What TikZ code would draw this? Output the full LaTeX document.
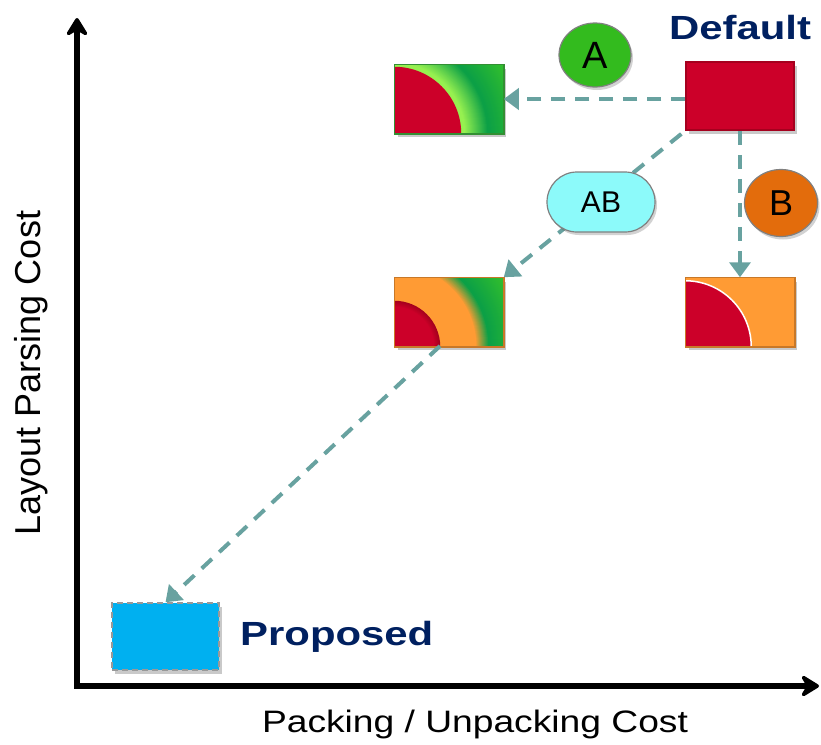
\documentclass[tikz,border=0pt]{standalone}
\usepackage{fontspec}
\setmainfont{Liberation Sans}
\usetikzlibrary{arrows.meta,shapes.geometric,shadows}
\definecolor{cred}{RGB}{204,0,41}
\definecolor{credd}{RGB}{165,0,30}
\definecolor{gout}{RGB}{52,192,44}
\definecolor{gdark}{RGB}{12,160,70}
\definecolor{glight}{RGB}{150,240,80}
\definecolor{corange}{RGB}{255,155,52}
\definecolor{corbord}{RGB}{200,120,40}
\definecolor{cblue}{RGB}{0,176,240}
\definecolor{navy}{RGB}{0,32,96}
\definecolor{teal1}{RGB}{104,162,160}
\definecolor{circA}{RGB}{51,187,30}
\definecolor{circB}{RGB}{227,108,12}
\definecolor{cyanAB}{RGB}{140,250,250}
\newcommand\ringgrad[5]{%
  \foreach \rr in {#2,...,#3}{%
    \pgfmathsetmacro\tpct{(\rr-#3)/(#2-#3)*100}%
    \fill[#4!\tpct!#5] (#1) circle[radius=\rr];}}
\begin{document}
\begin{tikzpicture}[x=1pt,y=-1pt,
  boxst/.style={rectangle, minimum width=108, minimum height=68, inner sep=0pt, line width=1.5pt,
    drop shadow={shadow xshift=3pt,shadow yshift=-4pt,opacity=0.3,fill=black!70}},
  flow/.style={draw=teal1, line width=4pt, dash pattern=on 14pt off 10pt,
    -{Triangle[length=15pt,width=21pt]}},
  axis/.style={line width=6pt, -{Stealth[length=22pt,width=27pt,inset=8pt,round]}},
  lab/.style={font=\fontsize{31}{36}\selectfont, inner sep=0pt},
  big/.style={font=\bfseries\fontsize{33.5}{40}\selectfont, text=navy, inner sep=0pt},
  tag/.style={draw=black!50, line width=1.2pt, inner sep=0pt,
    drop shadow={shadow xshift=2pt,shadow yshift=-3pt,opacity=0.25,fill=black!70}}]
\useasboundingbox (0,0) rectangle (821,744);

% axes
\coordinate (O) at (77,686);
\coordinate (ytop) at (77,18);
\coordinate (xend) at (819,686);
\draw[axis] (O) -- (ytop);
\draw[axis] ([xshift=-3pt]O) -- (xend);

\node[lab, rotate=90, font=\fontsize{36}{40}\selectfont] (ylab) at (31,373) {Layout Parsing Cost};
\node[lab] (xlab) at (475,724) {\scalebox{1.2}[1]{Packing / Unpacking Cost}};

% default box
\node[boxst, draw=credd, fill=cred] (def) at (740,96) {};
\node[big] (deflab) at (740,28) {\scalebox{1.25}[1]{Default}};

% box A
\node[boxst, fill=white] (boxA) at (449,99) {};
\begin{scope}
  \clip (boxA.south west) rectangle (boxA.north east);
  \ringgrad{boxA.south west}{130}{95}{gout}{gdark}
  \ringgrad{boxA.south west}{94}{71}{gdark}{glight}
  \fill[cred] (boxA.south west) circle[radius=67];
\end{scope}
\draw[draw=green!45!black!80, line width=1.5pt] (boxA.south west) rectangle (boxA.north east);

% box AB
\node[boxst, fill=white] (boxAB) at (449,312) {};
\begin{scope}
  \clip (boxAB.south west) rectangle (boxAB.north east);
  \ringgrad{boxAB.south west}{130}{96}{gout}{gdark}
  \ringgrad{boxAB.south west}{95}{82}{gdark}{corange}
  \fill[corange] (boxAB.south west) circle[radius=82];
  \ringgrad{boxAB.south west}{46}{40}{credd}{cred}
  \fill[cred] (boxAB.south west) circle[radius=40];
\end{scope}
\draw[draw=corbord, line width=1.5pt] (boxAB.south west) rectangle (boxAB.north east);

% box B
\node[boxst, fill=corange] (boxB) at (740,312) {};
\begin{scope}
  \clip (boxB.south west) rectangle (boxB.north east);
  \fill[cred, draw=white, line width=1.5pt] (boxB.south west) circle[radius=66];
\end{scope}
\draw[draw=corbord, line width=1.5pt] (boxB.south west) rectangle (boxB.north east);

% proposed
\node[boxst, fill=cblue, draw=black!40, dash pattern=on 6pt off 4pt, minimum width=107, minimum height=67] (prop) at (165.5,636.5) {};
\node[big, anchor=west] (proplab) at (240,637) {\scalebox{1.25}[1]{Proposed}};

% arrows
\coordinate (abbot) at (440,346);
\draw[flow] (def.west |- boxA.east) -- (boxA.east);
\draw[flow] (def.south) -- (boxB.north);
\draw[flow, shorten <=5pt] (def.south west) -- (boxAB.north east);
\draw[flow] (abbot) -- (prop.north);

% tags
\node[tag, ellipse, fill=circA, minimum width=72, minimum height=64, font=\fontsize{38}{40}\selectfont] (tA) at (595,55) {A};
\node[tag, rectangle, rounded corners=30pt, fill=cyanAB, minimum width=108, minimum height=60, font=\fontsize{30}{34}\selectfont] (tAB) at (601,202) {AB};
\node[tag, ellipse, fill=circB, minimum width=73, minimum height=67, font=\fontsize{36}{40}\selectfont] (tB) at (781,203) {B};
\end{tikzpicture}
\end{document}
